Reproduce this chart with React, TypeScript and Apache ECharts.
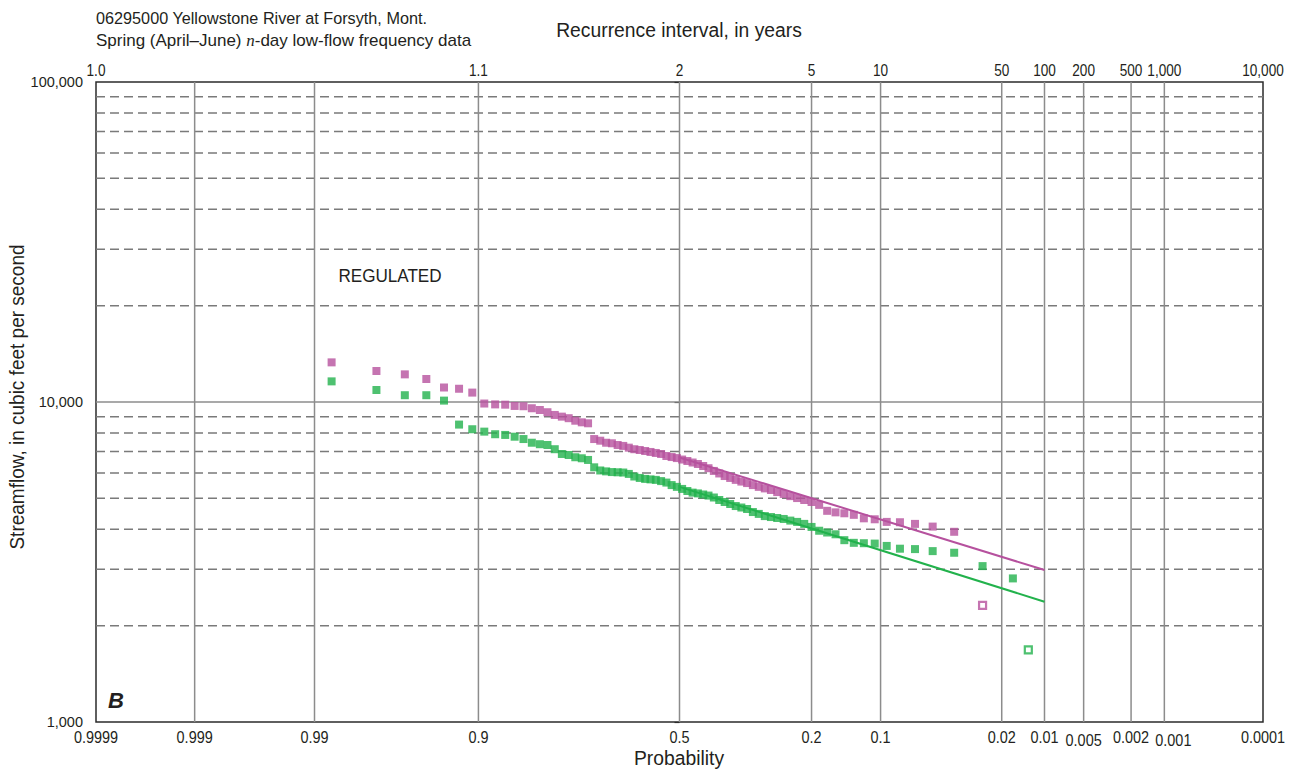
import React, { useEffect, useRef } from 'react';
import * as echarts from 'echarts';

// ---------- data ----------
const GRID_PROBS = [0.9999, 0.999, 0.99, 0.9, 0.5, 0.2, 0.1, 0.02, 0.01, 0.005, 0.002, 0.001, 0.0001];
const PROB_LABELS = ['0.9999', '0.999', '0.99', '0.9', '0.5', '0.2', '0.1', '0.02', '0.01', '0.005', '0.002', '0.001', '0.0001'];
const RECUR_LABELS = ['1.0', '', '', '1.1', '2', '5', '10', '50', '100', '200', '500', '1,000', '10,000'];

const DASHED_FLOWS = [2000, 3000, 4000, 5000, 6000, 7000, 8000, 9000, 20000, 30000, 40000, 50000, 60000, 70000, 80000, 90000];
const SOLID_FLOWS = [10000];
const Y_MIN = 1000;
const Y_MAX = 100000;

// plotting positions (probability) of the ranked values
const PLOT_PROB = [
  0.9867, 0.9733, 0.96, 0.9467, 0.9333, 0.92, 0.9067, 0.8933, 0.88, 0.8667,
  0.8533, 0.84, 0.8267, 0.8133, 0.8, 0.7867, 0.7733, 0.76, 0.7467, 0.7333,
  0.72, 0.7067, 0.6933, 0.68, 0.6667, 0.6533, 0.64, 0.6267, 0.6133, 0.6,
  0.5867, 0.5733, 0.56, 0.5467, 0.5333, 0.52, 0.5067, 0.4933, 0.48, 0.4667,
  0.4533, 0.44, 0.4267, 0.4133, 0.4, 0.3867, 0.3733, 0.36, 0.3467, 0.3333,
  0.32, 0.3067, 0.2933, 0.28, 0.2667, 0.2533, 0.24, 0.2267, 0.2133, 0.2,
  0.1867, 0.1733, 0.16, 0.1467, 0.1333, 0.12, 0.1067, 0.0933, 0.08, 0.0667,
  0.0533, 0.04, 0.0267,
];

// magenta series (filled squares)
const MAG_FLOW = [
  13300, 12500, 12200, 11800, 11100, 11000, 10700, 9890, 9830, 9810,
  9720, 9700, 9560, 9440, 9290, 9110, 9000, 8900, 8740, 8640,
  8580, 7660, 7570, 7460, 7430, 7340, 7290, 7200, 7120, 7080,
  7030, 6980, 6930, 6880, 6780, 6730, 6680, 6610, 6540, 6470,
  6400, 6310, 6210, 6090, 5980, 5870, 5790, 5710, 5640, 5580,
  5500, 5430, 5370, 5310, 5230, 5160, 5080, 5010, 4940, 4870,
  4770, 4570, 4520, 4490, 4440, 4330, 4300, 4220, 4210, 4160,
  4080, 3930,
];
const MAG_HOLLOW_PROB = [0.0267];
const MAG_HOLLOW_FLOW = [2315];

// green series (filled squares)
const GRN_FLOW = [
  11600, 10900, 10500, 10500, 10100, 8500, 8220, 8080, 7930, 7890,
  7790, 7660, 7460, 7380, 7340, 7120, 6880, 6830, 6720, 6670,
  6590, 6250, 6110, 6070, 6040, 6030, 6020, 5960, 5850, 5790,
  5750, 5730, 5710, 5660, 5600, 5500, 5430, 5350, 5270, 5210,
  5180, 5140, 5100, 5030, 4940, 4870, 4800, 4730, 4680, 4630,
  4530, 4470, 4400, 4370, 4340, 4310, 4260, 4220, 4160, 4070,
  3960, 3910, 3860, 3700, 3630, 3620, 3610, 3550, 3480, 3470,
  3420, 3380, 3070,
];
const GRN_EXTRA_PROB = [0.0168];
const GRN_EXTRA_FLOW = [2810];
const GRN_HOLLOW_PROB = [0.0131];
const GRN_HOLLOW_FLOW = [1680];

// fitted frequency curves
const MAG_FIT_PROB = [0.5, 0.01];
const MAG_FIT_FLOW = [6710, 2985];
const GRN_FIT_PROB = [0.5, 0.01];
const GRN_FIT_FLOW = [5430, 2376];

// ---------- helpers ----------
function probit(p: number): number {
  const a = [-3.969683028665376e1, 2.209460984245205e2, -2.759285104469687e2, 1.38357751867269e2, -3.066479806614716e1, 2.506628277459239];
  const b = [-5.447609879822406e1, 1.615858368580409e2, -1.556989798598866e2, 6.680131188771972e1, -1.328068155288572e1];
  const c = [-7.784894002430293e-3, -3.223964580411365e-1, -2.400758277161838, -2.549732539343734, 4.374664141464968, 2.938163982698783];
  const d = [7.784695709041462e-3, 3.224671290700398e-1, 2.445134137142996, 3.754408661907416];
  const plow = 0.02425;
  const phigh = 1 - plow;
  if (p < plow) {
    const q = Math.sqrt(-2 * Math.log(p));
    return (((((c[0] * q + c[1]) * q + c[2]) * q + c[3]) * q + c[4]) * q + c[5]) / ((((d[0] * q + d[1]) * q + d[2]) * q + d[3]) * q + 1);
  }
  if (p <= phigh) {
    const q = p - 0.5;
    const r = q * q;
    return ((((((a[0] * r + a[1]) * r + a[2]) * r + a[3]) * r + a[4]) * r + a[5]) * q) / (((((b[0] * r + b[1]) * r + b[2]) * r + b[3]) * r + b[4]) * r + 1);
  }
  const q = Math.sqrt(-2 * Math.log(1 - p));
  return -(((((c[0] * q + c[1]) * q + c[2]) * q + c[3]) * q + c[4]) * q + c[5]) / ((((d[0] * q + d[1]) * q + d[2]) * q + d[3]) * q + 1);
}
// probability -> position on the normal-probability axis (high probability on the left)
const xOf = (p: number) => -probit(p);

const FONT = "'Liberation Sans', Arial, sans-serif";
const TEXT = '#231f20';
const MAGENTA = '#b6519e';
const GREEN = '#22b24c';
const GRID_GRAY = '#8c8c8c';
const DASH_GRAY = '#7a7a7a';
// small label nudges (style only) for crowded bottom labels
const LABEL_NUDGE: Record<string, [number, number]> = { '0.005': [0, 3], '0.001': [9, 3] };

function buildOption(): any {
  const xMin = xOf(0.9999);
  const xMax = xOf(0.0001);
  return {
    animation: false,
    backgroundColor: '#ffffff',
    grid: { left: 96, right: 34, top: 82, bottom: 49, show: true, borderColor: '#2b2b2b', borderWidth: 1.5, backgroundColor: 'transparent' },
    xAxis: { type: 'value', min: xMin, max: xMax, show: false },
    yAxis: {
      type: 'log',
      logBase: 10,
      min: Y_MIN,
      max: Y_MAX,
      axisLine: { show: false },
      axisTick: { show: true, length: 5, lineStyle: { color: '#2b2b2b', width: 1.2 } },
      axisLabel: {
        formatter: (v: number) => Number(v).toLocaleString('en-US'),
        fontSize: 14.5,
        fontFamily: FONT,
        color: TEXT,
        margin: 13,
      },
      splitLine: { show: false },
    },
    graphic: [
      { type: 'text', x: 96, y: 18.5, scaleX: 0.955, style: { text: '06295000 Yellowstone River at Forsyth, Mont.', fontSize: 17, fontFamily: FONT, fill: TEXT, align: 'left', verticalAlign: 'middle' } },
      {
        type: 'text', x: 96, y: 40, scaleX: 1.0,
        style: {
          text: 'Spring (April–June) {i|n}-day low-flow frequency data',
          fontSize: 17, fontFamily: FONT, fill: TEXT, align: 'left', verticalAlign: 'middle',
          rich: { i: { fontStyle: 'italic', fontFamily: "'Liberation Serif', 'DejaVu Serif', serif", fontSize: 17, fill: TEXT } },
        },
      },
      { type: 'text', x: 679, y: 30, scaleX: 0.92, style: { text: 'Recurrence interval, in years', fontSize: 21, fontFamily: FONT, fill: TEXT, align: 'center', verticalAlign: 'middle' } },
      { type: 'text', x: 679, y: 758, scaleX: 0.92, style: { text: 'Probability', fontSize: 21, fontFamily: FONT, fill: TEXT, align: 'center', verticalAlign: 'middle' } },
      { type: 'text', x: 17, y: 397, rotation: Math.PI / 2, scaleX: 0.905, style: { text: 'Streamflow, in cubic feet per second', fontSize: 21, fontFamily: FONT, fill: TEXT, align: 'center', verticalAlign: 'middle' } },
      { type: 'text', x: 390, y: 276, scaleX: 0.9, style: { text: 'REGULATED', fontSize: 19, fontFamily: FONT, fill: TEXT, align: 'center', verticalAlign: 'middle' } },
      { type: 'text', x: 116, y: 700, style: { text: 'B', fontSize: 22, fontWeight: 'bold', fontStyle: 'italic', fontFamily: FONT, fill: TEXT, align: 'center', verticalAlign: 'middle' } },
    ],
    series: [
      {
        type: 'custom',
        name: 'hgrid',
        z: 1,
        silent: true,
        data: [...DASHED_FLOWS, ...SOLID_FLOWS].map((v) => [xMin, v]),
        renderItem: (params: any, api: any) => {
          const v = api.value(1);
          const a = api.coord([xMin, v]);
          const b = api.coord([xMax, v]);
          const solid = SOLID_FLOWS.indexOf(v) >= 0;
          return {
            type: 'line',
            shape: { x1: a[0], y1: a[1], x2: b[0], y2: b[1] },
            style: solid
              ? { stroke: GRID_GRAY, lineWidth: 1.5 }
              : { stroke: DASH_GRAY, lineWidth: 1.5, lineDash: [9, 5] },
          };
        },
      },
      {
        type: 'custom',
        name: 'vgrid',
        z: 1,
        silent: true,
        data: GRID_PROBS.map((p) => [xOf(p), Y_MIN]),
        renderItem: (params: any, api: any) => {
          const i = params.dataIndex;
          const x = api.value(0);
          const top = api.coord([x, Y_MAX]);
          const bot = api.coord([x, Y_MIN]);
          const children: any[] = [];
          const edge = i === 0 || i === GRID_PROBS.length - 1;
          if (!edge) {
            children.push({ type: 'line', shape: { x1: top[0], y1: top[1], x2: bot[0], y2: bot[1] }, style: { stroke: GRID_GRAY, lineWidth: 1.5 } });
          }
          const nudge = LABEL_NUDGE[PROB_LABELS[i]] || [0, 0];
          children.push({
            type: 'text', x: bot[0] + nudge[0], y: bot[1] + 15 + nudge[1], scaleX: 0.85,
            style: { text: PROB_LABELS[i], fontSize: 17, fontFamily: FONT, fill: TEXT, align: 'center', verticalAlign: 'middle' },
          });
          if (RECUR_LABELS[i]) {
            children.push({
              type: 'text', x: top[0], y: top[1] - 11, scaleX: 0.85,
              style: { text: RECUR_LABELS[i], fontSize: 16, fontFamily: FONT, fill: TEXT, align: 'center', verticalAlign: 'middle' },
            });
          }
          return { type: 'group', children };
        },
      },
      {
        type: 'line', name: 'magenta fit', z: 3, silent: true, showSymbol: false,
        data: MAG_FIT_PROB.map((p, k) => [xOf(p), MAG_FIT_FLOW[k]]),
        lineStyle: { color: MAGENTA, width: 2 },
      },
      {
        type: 'line', name: 'green fit', z: 3, silent: true, showSymbol: false,
        data: GRN_FIT_PROB.map((p, k) => [xOf(p), GRN_FIT_FLOW[k]]),
        lineStyle: { color: GREEN, width: 2 },
      },
      {
        type: 'scatter', name: 'magenta', z: 4, symbol: 'rect', symbolSize: 8,
        data: MAG_FLOW.map((v, k) => [xOf(PLOT_PROB[k]), v]),
        itemStyle: { color: MAGENTA },
      },
      {
        type: 'scatter', name: 'magenta low', z: 4, symbol: 'rect', symbolSize: 7,
        data: MAG_HOLLOW_PROB.map((p, k) => [xOf(p), MAG_HOLLOW_FLOW[k]]),
        itemStyle: { color: '#ffffff', borderColor: MAGENTA, borderWidth: 2.2 },
      },
      {
        type: 'scatter', name: 'green', z: 4, symbol: 'rect', symbolSize: 8,
        data: [
          ...GRN_FLOW.map((v, k) => [xOf(PLOT_PROB[k]), v]),
          ...GRN_EXTRA_PROB.map((p, k) => [xOf(p), GRN_EXTRA_FLOW[k]]),
        ],
        itemStyle: { color: GREEN },
      },
      {
        type: 'scatter', name: 'green low', z: 4, symbol: 'rect', symbolSize: 7,
        data: GRN_HOLLOW_PROB.map((p, k) => [xOf(p), GRN_HOLLOW_FLOW[k]]),
        itemStyle: { color: '#ffffff', borderColor: GREEN, borderWidth: 2.2 },
      },
    ],
  };
}

export default function App() {
  const ref = useRef<HTMLDivElement>(null);
  useEffect(() => {
    if (!ref.current) return;
    const chart = echarts.init(ref.current, null, { renderer: 'svg' });
    chart.setOption(buildOption());
    return () => chart.dispose();
  }, []);
  return (
    <div
      ref={ref}
      style={{ position: 'absolute', left: 0, top: 0, width: 1297, height: 771, background: '#ffffff' }}
    />
  );
}
